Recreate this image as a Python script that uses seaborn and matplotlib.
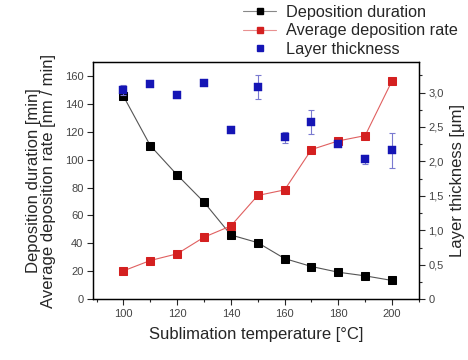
import numpy as np
import pandas as pd
import matplotlib
matplotlib.use("Agg")
import matplotlib.pyplot as plt
from matplotlib.ticker import MultipleLocator, FuncFormatter
from matplotlib.lines import Line2D
import seaborn as sns

sns.set_style("ticks")
plt.rcParams['font.family'] = ['Liberation Sans', 'DejaVu Sans']

temperature = [100, 110, 120, 130, 140, 150, 160, 170, 180, 190, 200]
duration = [145.4, 110.0, 89.0, 69.5, 46.0, 40.5, 29.1, 23.4, 19.3, 16.7, 13.4]
rate = [20.3, 27.7, 32.5, 44.4, 52.5, 74.3, 78.3, 107.2, 113.4, 117.2, 156.4]
thickness = [3.04, 3.13, 2.97, 3.14, 2.46, 3.08, 2.35, 2.57, 2.25, 2.03, 2.16]
thickness_err = [0.07, 0.02, 0.05, 0.02, 0.05, 0.18, 0.08, 0.17, 0.03, 0.07, 0.25]

df = pd.DataFrame({"T": temperature, "duration": duration, "rate": rate,
                   "thick": thickness, "err": thickness_err})

fig = plt.figure(figsize=(4.68, 3.6), dpi=100)
ax = fig.add_axes([0.199, 0.169, 0.696, 0.659])
ax2 = ax.twinx()

sns.lineplot(data=df, x="T", y="duration", ax=ax, color="#555555", lw=0.8,
             marker="s", markersize=5.5, markerfacecolor="black",
             markeredgecolor="black", label="Deposition duration", legend=False)
sns.lineplot(data=df, x="T", y="rate", ax=ax, color="#e06060", lw=0.8,
             marker="s", markersize=5.5, markerfacecolor="#d42020",
             markeredgecolor="#d42020", label="Average deposition rate", legend=False)

ax2.errorbar(df["T"], df["thick"], yerr=df["err"], fmt="none",
             ecolor="#7a7ad0", elinewidth=0.8, capsize=2.5, capthick=0.8)
sns.scatterplot(data=df, x="T", y="thick", ax=ax2, marker="s", s=30,
                color="#1515b5", edgecolor="#1515b5", linewidth=0.3, zorder=3,
                legend=False)

ax.set_xlim(88.7, 210)
ax.set_ylim(0, 170)
ax2.set_ylim(0, 3.445)

ax.xaxis.set_major_locator(MultipleLocator(20))
ax.xaxis.set_minor_locator(MultipleLocator(10))
ax.yaxis.set_major_locator(MultipleLocator(20))
ax2.yaxis.set_major_locator(MultipleLocator(0.5))
ax2.yaxis.set_minor_locator(MultipleLocator(0.25))
ax2.yaxis.set_major_formatter(FuncFormatter(lambda v, p: ("%.1f" % v).replace(".", ",") if v != 0 else "0"))

for a in (ax, ax2):
    a.tick_params(which="major", length=4, width=0.8, labelsize=8, labelcolor="#444444", direction="out", pad=3)
    a.tick_params(which="minor", length=2.5, width=0.8, direction="out")
    for s in a.spines.values():
        s.set_visible(True)
        s.set_linewidth(0.9)
        s.set_color("black")

ax.set_xlabel("Sublimation temperature [°C]", fontsize=12, labelpad=6)
ax.set_ylabel("Deposition duration [min]\nAverage deposition rate [nm / min]", fontsize=12, labelpad=6, linespacing=1.0)
ax2.set_ylabel("Layer thickness [μm]", fontsize=12, labelpad=4)

handles = [
    Line2D([], [], color="#888888", lw=0.8, marker="s", markersize=4,
           markerfacecolor="black", markeredgecolor="black"),
    Line2D([], [], color="#e89090", lw=0.8, marker="s", markersize=4,
           markerfacecolor="#d42020", markeredgecolor="#d42020"),
    Line2D([], [], color="none", lw=0, marker="s", markersize=4,
           markerfacecolor="#1515b5", markeredgecolor="#1515b5"),
]
labels = ["Deposition duration", "Average deposition rate", "Layer thickness"]
fig.legend(handles, labels, loc="upper left", bbox_to_anchor=(0.506, 1.005),
           frameon=False, fontsize=11.7, handlelength=2.0, handletextpad=0.6,
           labelspacing=0.22, borderaxespad=0)

fig.savefig("out.png", dpi=100)
